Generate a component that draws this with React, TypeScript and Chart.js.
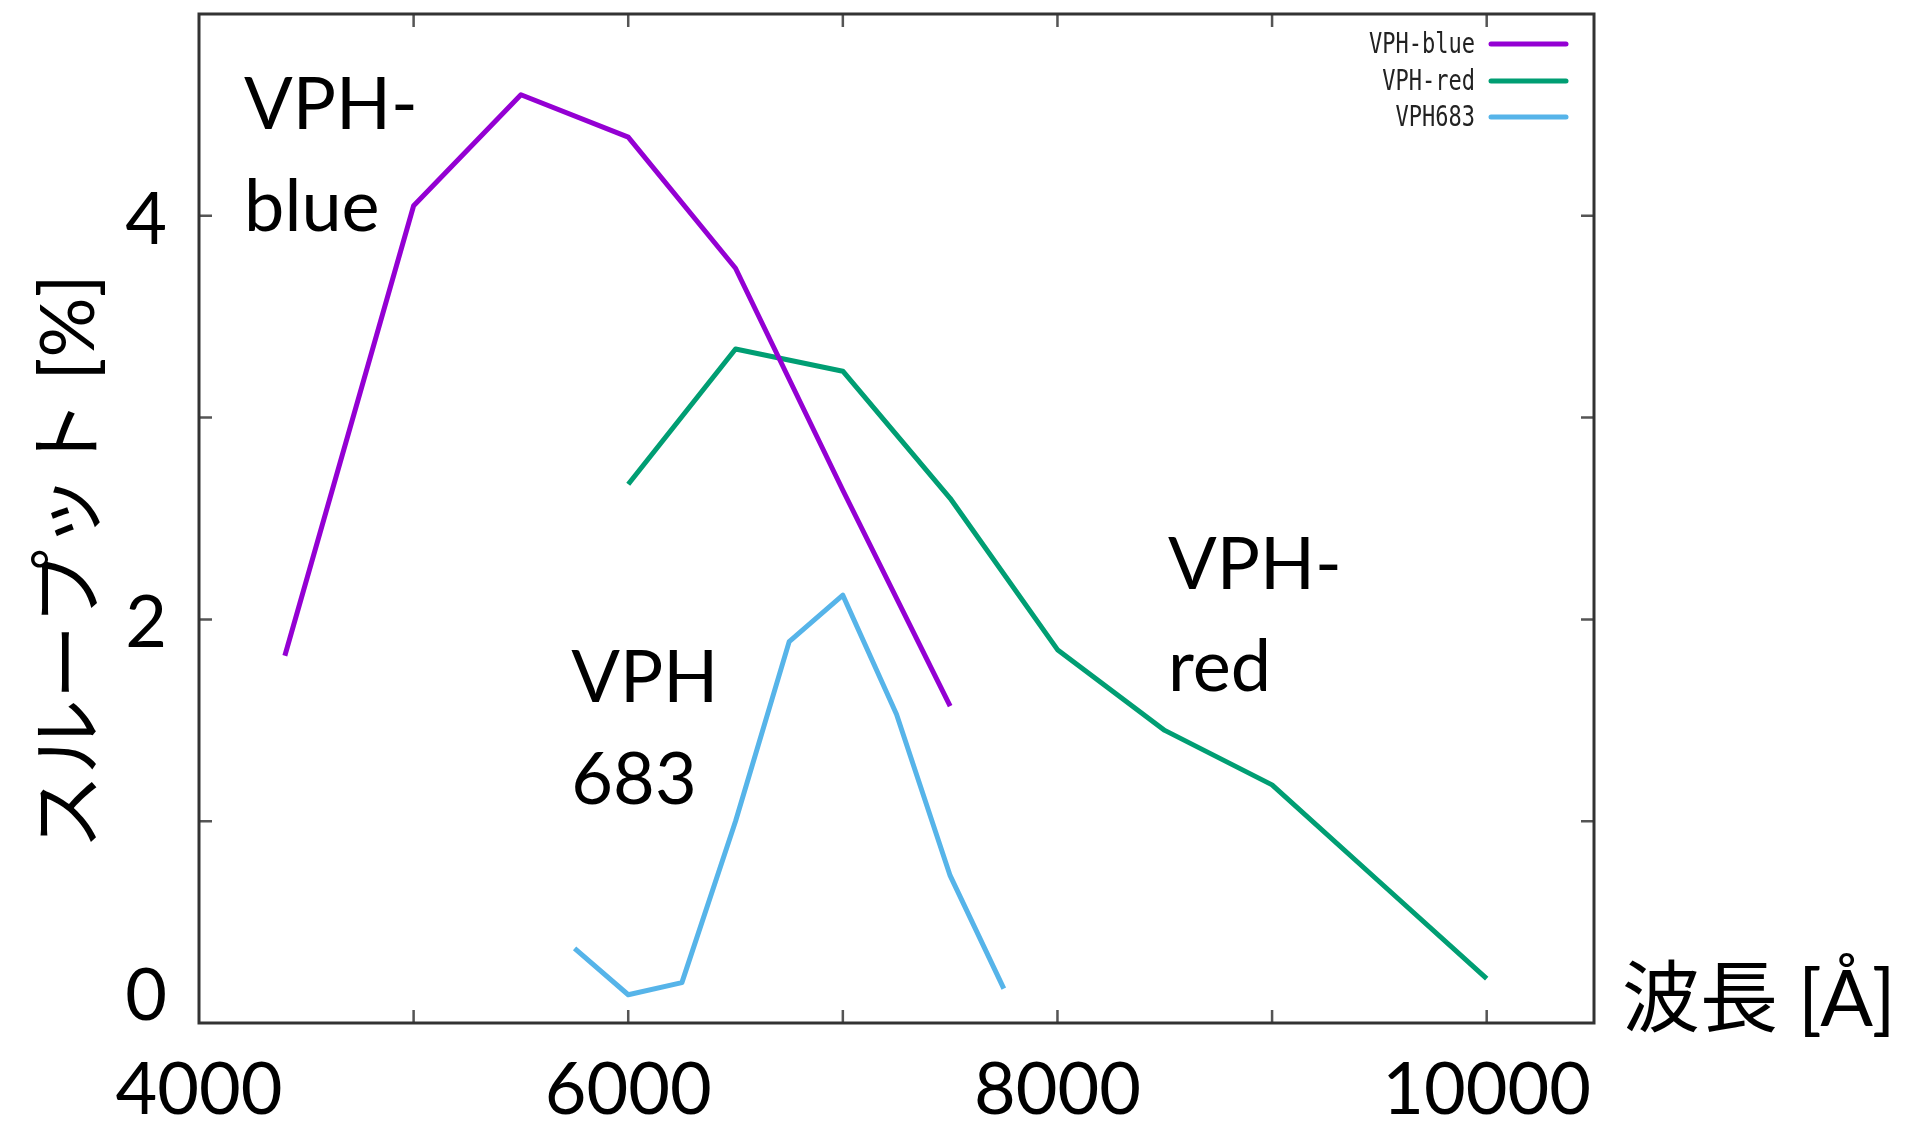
import React, { useEffect, useRef } from "react";
import { Chart, registerables } from "chart.js";

Chart.register(...registerables);

// ---- data ----
const seriesNames = ["VPH-blue", "VPH-red", "VPH683"];
const seriesColors = ["#9400D3", "#009E73", "#56B4E9"];

const blueX = [4400, 5000, 5500, 6000, 6500, 7000, 7500];
const blueY = [1.82, 4.05, 4.6, 4.39, 3.74, 2.64, 1.57];

const redX = [6000, 6500, 7000, 7500, 8000, 8500, 9000, 9500, 10000];
const redY = [2.67, 3.34, 3.23, 2.6, 1.85, 1.45, 1.18, 0.7, 0.22];

const vph683X = [5750, 6000, 6250, 6500, 6750, 7000, 7250, 7500, 7750];
const vph683Y = [0.37, 0.14, 0.2, 1.0, 1.89, 2.12, 1.53, 0.73, 0.17];

const xTickValues = [5000, 6000, 7000, 8000, 9000, 10000];
const xLabelValues = [4000, 6000, 8000, 10000];
const yTickValues = [1, 2, 3, 4];
const yLabelValues = [0, 2, 4];

const xTitle = "波長 [Å]";
const yTitle = "スループット [%]";

// annotation texts, anchored in data coordinates (x, y of first baseline)
const annotations = [
  { lines: ["VPH-", "blue"], x: 4210, y: 4.43 },
  { lines: ["VPH", "683"], x: 5735, y: 1.59 },
  { lines: ["VPH-", "red"], x: 8515, y: 2.15 },
];

const toPts = (xs: number[], ys: number[]) => xs.map((x, i) => ({ x, y: ys[i] }));

const FONT = "Lato, 'Noto Sans CJK JP', sans-serif";

const decorPlugin = {
  id: "decor",
  afterDatasetsDraw(chart: any) {
    const ctx = chart.ctx as CanvasRenderingContext2D;
    const area = chart.chartArea;
    const xs = chart.scales.x;
    const ys = chart.scales.y;
    ctx.save();

    // annotations
    ctx.fillStyle = "#000";
    ctx.font = `72px ${FONT}`;
    ctx.textAlign = "left";
    ctx.textBaseline = "alphabetic";
    annotations.forEach((a) => {
      const px = xs.getPixelForValue(a.x);
      const py = ys.getPixelForValue(a.y);
      a.lines.forEach((l, i) => ctx.fillText(l, px, py + i * 102));
    });

    // legend
    const rowYs = [44, 81, 117];
    seriesNames.forEach((name, i) => {
      const y = area.top + rowYs[i] - 14;
      ctx.save();
      ctx.translate(1475, y + 9);
      ctx.scale(1, 1.25);
      ctx.font = `22px 'DejaVu Sans Mono', monospace`;
      ctx.fillStyle = "#222";
      ctx.textAlign = "right";
      ctx.textBaseline = "alphabetic";
      ctx.fillText(name, 0, 0);
      ctx.restore();
      ctx.strokeStyle = seriesColors[i];
      ctx.lineWidth = 5;
      ctx.lineCap = "round";
      ctx.beginPath();
      ctx.moveTo(1491, y);
      ctx.lineTo(1566, y);
      ctx.stroke();
    });

    // ticks (inward, mirrored)
    ctx.strokeStyle = "#555";
    ctx.lineWidth = 2.5;
    ctx.lineCap = "butt";
    const tl = 13;
    xTickValues.forEach((v) => {
      const px = xs.getPixelForValue(v);
      ctx.beginPath();
      ctx.moveTo(px, area.bottom);
      ctx.lineTo(px, area.bottom - tl);
      ctx.moveTo(px, area.top);
      ctx.lineTo(px, area.top + tl);
      ctx.stroke();
    });
    yTickValues.forEach((v) => {
      const py = ys.getPixelForValue(v);
      ctx.beginPath();
      ctx.moveTo(area.left, py);
      ctx.lineTo(area.left + tl, py);
      ctx.moveTo(area.right, py);
      ctx.lineTo(area.right - tl, py);
      ctx.stroke();
    });

    // frame
    ctx.strokeStyle = "#333";
    ctx.lineWidth = 3;
    ctx.strokeRect(area.left, area.top, area.right - area.left, area.bottom - area.top);

    // tick labels
    ctx.fillStyle = "#000";
    ctx.font = `72px ${FONT}`;
    ctx.textBaseline = "alphabetic";
    ctx.textAlign = "center";
    xLabelValues.forEach((v) => {
      ctx.fillText(String(v), xs.getPixelForValue(v), 1114);
    });
    ctx.textAlign = "right";
    yLabelValues.forEach((v) => {
      const py = ys.getPixelForValue(v);
      const off = v === 0 ? -3 : 28;
      ctx.fillText(String(v), area.left - 32, py + off);
    });

    // axis titles
    ctx.font = `78px ${FONT}`;
    ctx.textAlign = "left";
    ctx.fillText(xTitle, 1622, 1026);
    ctx.save();
    ctx.translate(70, 562);
    ctx.rotate(-Math.PI / 2);
    ctx.font = `75px ${FONT}`;
    ctx.textAlign = "center";
    ctx.textBaseline = "middle";
    ctx.fillText(yTitle, 0, 0);
    ctx.restore();

    ctx.restore();
  },
};

export default function App() {
  const ref = useRef<HTMLCanvasElement | null>(null);
  useEffect(() => {
    document.body.style.margin = "0";
    const canvas = ref.current!;
    const datasets = [
      toPts(blueX, blueY),
      toPts(redX, redY),
      toPts(vph683X, vph683Y),
    ].map((data, i) => ({
      label: seriesNames[i],
      data,
      borderColor: seriesColors[i],
      backgroundColor: seriesColors[i],
      borderWidth: 5,
      pointRadius: 0,
      tension: 0,
      fill: false,
      borderJoinStyle: "round" as const,
    }));
    const chart = new Chart(canvas, {
      type: "line",
      data: { datasets },
      options: {
        animation: false,
        responsive: false,
        devicePixelRatio: 1,
        layout: { padding: { left: 199, top: 14, right: 321, bottom: 102 } },
        plugins: { legend: { display: false }, tooltip: { enabled: false } },
        scales: {
          x: { type: "linear", min: 4000, max: 10500, display: false },
          y: { type: "linear", min: 0, max: 5, display: false },
        },
      },
      plugins: [decorPlugin],
    });
    return () => chart.destroy();
  }, []);
  return (
    <div style={{ width: 1915, height: 1125, background: "#fff" }}>
      <canvas ref={ref} width={1915} height={1125} style={{ display: "block" }} />
    </div>
  );
}
